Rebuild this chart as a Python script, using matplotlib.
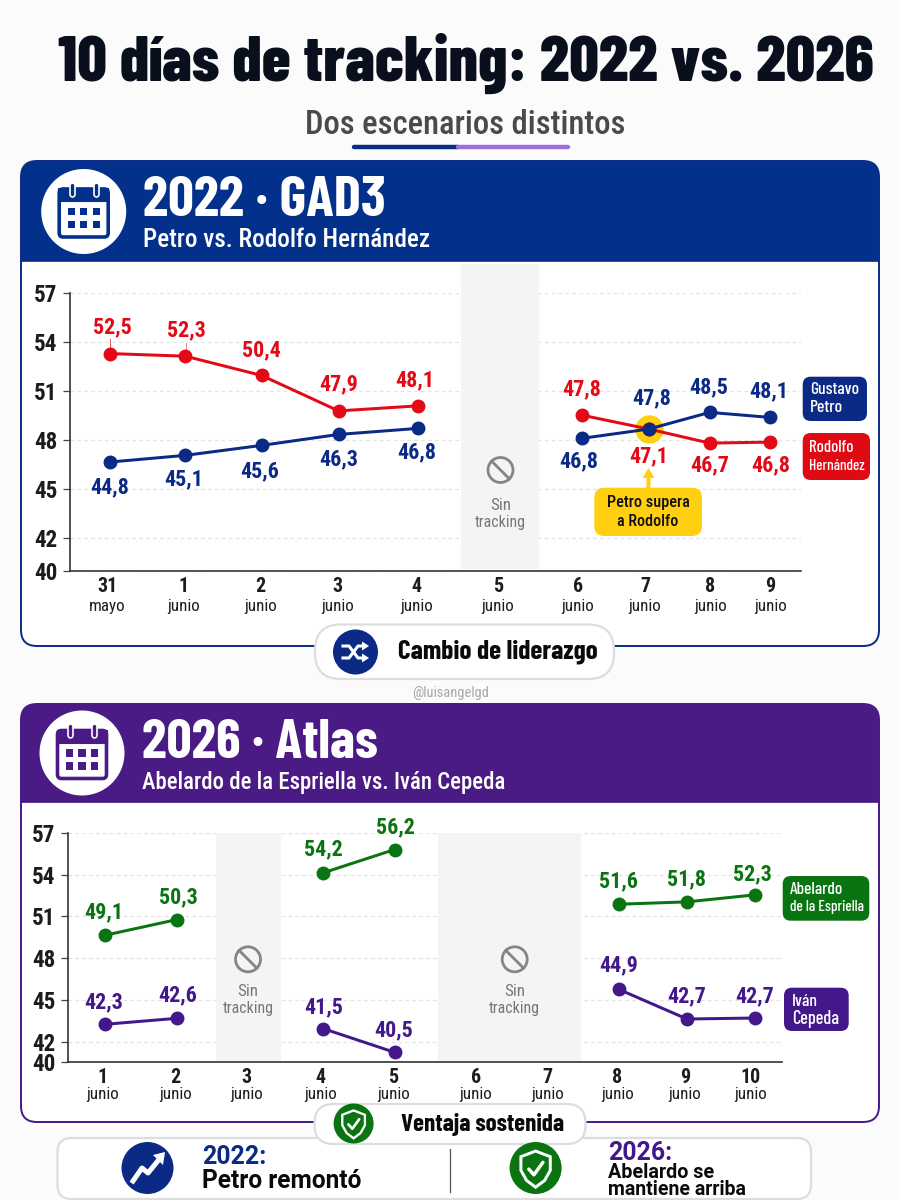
import numpy as np
import matplotlib
matplotlib.use("Agg")
import logging
logging.getLogger('matplotlib.font_manager').setLevel(logging.ERROR)
import matplotlib.pyplot as plt
from matplotlib.patches import FancyBboxPatch, Rectangle, Circle, Polygon
import matplotlib.patheffects as pe

COND = ['Roboto Condensed', 'Barlow Semi Condensed', 'Roboto', 'DejaVu Sans']
TALL = ['Barlow Condensed', 'Roboto Condensed', 'Roboto', 'DejaVu Sans']
plt.rcParams['font.family'] = COND

# ---------- data ----------
nan = float('nan')
days_2022 = ['31', '1', '2', '3', '4', '5', '6', '7', '8', '9']
months_2022 = ['mayo'] + ['junio'] * 9
tick_slots_2022 = [-0.03, 0.95, 1.95, 2.96, 3.98, 5.04, 6.08, 6.95, 7.80, 8.58]
mark_slots_2022 = [0, 0.98, 1.97, 2.97, 4.0, 5.04, 6.13, 7.0, 7.79, 8.58]
petro_pos = [46.67, 47.08, 47.69, 48.36, 48.73, nan, 48.12, 48.69, 49.71, 49.40]
rodolfo_pos = [53.31, 53.15, 51.97, 49.80, 50.11, nan, 49.54, 48.69, 47.83, 47.89]
petro_lab = ['44,8', '45,1', '45,6', '46,3', '46,8', None, '46,8', '47,8', '48,5', '48,1']
rodolfo_lab = ['52,5', '52,3', '50,4', '47,9', '48,1', None, '47,8', '47,1', '46,7', '46,8']

days_2026 = [str(d) for d in range(1, 11)]
months_2026 = ['junio'] * 10
tick_slots_2026 = [0.97, 1.98, 2.97, 3.99, 5.0, 6.15, 7.14, 8.11, 9.05, 9.96]
mark_slots_2026 = [1.0, 2.0, 3.0, 4.03, 5.02, 6.0, 7.0, 8.13, 9.08, 10.02]
abelardo_pos = [49.65, 50.78, nan, 54.14, 55.81, nan, nan, 51.88, 52.05, 52.55]
cepeda_pos = [43.25, 43.68, nan, 42.94, 40.97, nan, nan, 45.77, 43.63, 43.70]
abelardo_lab = ['49,1', '50,3', None, '54,2', '56,2', None, None, '51,6', '51,8', '52,3']
cepeda_lab = ['42,3', '42,6', None, '41,5', '40,5', None, None, '44,9', '42,7', '42,7']

y_ticks = [40, 42, 45, 48, 51, 54, 57]

# ---------- styles / layout ----------
NAVY, PURPLE, RED, GREEN = '#0B2A86', '#43188A', '#E30A17', '#0A7412'
HEAD_NAVY, HEAD_PURPLE = '#02308A', '#4A1A85'
YELLOW = '#FFCF10'
DARK = '#1C1C1C'
off_petro = [(0, 25), (-2, 24), (-2, 26), (0, 25), (-1, 24), None, (-3, 23), (3, -31), (-1, -25), (-2, -26)]
off_rodolfo = [(2, -26), (1, -26), (0, -25), (0, -27), (-3, -26), None, (0, -26), (0, 27), (0, 22), (0, 23)]
off_abelardo = [(-1, -23), (1, -22), None, (0, -23), (1, -22), None, None, (0, -23), (0, -23), (-2, -21)]
off_cepeda = [(-1, -22), (1, -23), None, (0, -21), (-1, -22), None, None, (0, -24), (0, -23), (0, -22)]

PX = 0.72  # px -> pt at dpi 100
fig = plt.figure(figsize=(9, 12), dpi=100, facecolor='#FBFBFB')


def overlay(z):
    a = fig.add_axes([0, 0, 1, 1], zorder=z)
    a.set_xlim(0, 900)
    a.set_ylim(1200, 0)
    a.axis('off')
    a.patch.set_alpha(0)
    return a


bg, fg = overlay(0), overlay(3)


def T(a, x, y, s, px, color=DARK, ha='left', weight='bold', family=None, width=None, **kw):
    t = a.text(x, y, s, fontsize=px * PX, color=color, ha=ha, va='center', fontweight=weight,
               family=family if family else COND, **kw)
    if width:
        r = fig.canvas.get_renderer()
        w = t.get_window_extent(r).width
        t.set_fontsize(t.get_fontsize() * width / w)
    return t


def rbox(a, x0, y0, x1, y1, r, fc, ec='none', lw=0, z=1):
    p = FancyBboxPatch((x0 + r, y0 + r), x1 - x0 - 2 * r, y1 - y0 - 2 * r,
                       boxstyle=f'round,pad={r},rounding_size={r}', fc=fc, ec=ec, lw=lw, zorder=z)
    a.add_patch(p)
    return p


def panel(y0, y1, yh, head, edge):
    rbox(bg, 21, y0, 879, y1, 16, 'white', edge, 1.4, z=1)
    p = rbox(bg, 21, y0, 879, yh + 30, 16, head, z=2)
    clip = Rectangle((0, 0), 900, yh, transform=bg.transData)
    p.set_clip_path(clip)
    bg.plot([21, 879], [yh, yh], color=edge, lw=1.2, zorder=3)


def calendar(cx, cy, color):
    bg.add_patch(Circle((cx, cy), 42.5, fc='white', ec='none', zorder=4))
    rbox(bg, cx - 24.5, cy - 22.5, cx + 24.5, cy + 25.5, 4, 'white', color, 2.6, z=5)
    bg.add_patch(Rectangle((cx - 24.5, cy - 22.5), 49, 12, fc=color, ec=color, lw=1.5, zorder=5))
    for dx in (-12, 12):
        bg.plot([cx + dx, cx + dx], [cy - 27, cy - 18], color=color, lw=2.4, zorder=6,
                solid_capstyle='round', path_effects=[pe.withStroke(linewidth=4.8, foreground='white')])
    for row in (0, 1):
        for col in (-1, 0, 1):
            bg.add_patch(Rectangle((cx + col * 12.5 - 3.7, cy - 3.7 + row * 13), 7.4, 7.4, fc=color, ec='none', zorder=6))


def shield(a, cx, cy, r, z=6):
    a.add_patch(Circle((cx, cy), r, fc=GREEN, ec='none', zorder=z))
    k = r / 23.0
    verts = [(0, -15), (13, -10), (13, 2), (8, 11), (0, 17), (-8, 11), (-13, 2), (-13, -10), (0, -15)]
    a.add_patch(Polygon([(cx + k * vx, cy + k * vy) for vx, vy in verts], closed=True, fc='none',
                        ec='white', lw=1.9 * k, zorder=z + 1))
    a.plot([cx - 6 * k, cx - 1.5 * k, cx + 6.5 * k], [cy + 1 * k, cy + 6 * k, cy - 5 * k], color='white',
           lw=2.2 * k, zorder=z + 1, solid_capstyle='round')


def no_sign(cx, cy):
    fg.add_patch(Circle((cx, cy), 12.5, fc='none', ec='#858585', lw=2.0, zorder=3))
    d = 12.5 * 0.707
    fg.plot([cx - d, cx + d], [cy - d, cy + d], color='#858585', lw=2.0, zorder=3)


def sin_tracking(cx, y_icon, y1, y2):
    no_sign(cx, y_icon)
    T(fg, cx, y1, 'Sin', 17, '#777777', 'center', 'normal')
    T(fg, cx, y2, 'tracking', 17, '#777777', 'center', 'normal', width=51)


def chip(x0, y0, x1, y1, fc, lines, widths, x, ys):
    rbox(fg, x0, y0, x1, y1, 8, fc, z=2)
    for s, w, y in zip(lines, widths, ys):
        T(fg, x, y, s, 17.5, 'white', weight=500, family=TALL, width=w, zorder=3)


# ---------- header region ----------
T(bg, 58, 63, '10 días de tracking: 2022 vs. 2026', 70, '#0A0F1E', weight=800, family=TALL, width=817)
T(bg, 305, 125, 'Dos escenarios distintos', 34, '#4A4A4A', width=321, weight='medium')
bg.plot([354, 458], [147, 147], color=NAVY, lw=3.2, solid_capstyle='round', zorder=2)
bg.plot([458, 568], [147, 147], color='#9B6FDC', lw=3.2, solid_capstyle='round', zorder=2)

panel(161, 646, 261, HEAD_NAVY, NAVY)
panel(704, 1122, 802, HEAD_PURPLE, PURPLE)
calendar(83.7, 211.5, HEAD_NAVY)
calendar(82, 753, HEAD_PURPLE)
T(bg, 143, 201, '2022 · GAD3', 50, 'white', weight=700, family=TALL, width=243, zorder=6)
T(bg, 143, 240, 'Petro vs. Rodolfo Hernández', 23, 'white', width=287, weight='medium', zorder=6)
T(bg, 142, 743, '2026 · Atlas', 50, 'white', weight=700, family=TALL, width=236, zorder=6)
T(bg, 142, 783, 'Abelardo de la Espriella vs. Iván Cepeda', 23, 'white', width=362, weight='medium', zorder=6)


# ---------- charts ----------
def yf(v):
    v = np.asarray(v, float)
    return np.where(v >= 42, v, 42 + (v - 42) * 0.741)


def yi(v):
    v = np.asarray(v, float)
    return np.where(v >= 42, v, 42 + (v - 42) / 0.741)


def chart(rect, xlim, tslots, days, months, mslots, series, bands, band_top, day_y, mon_y):
    x0, x1, ytop, ybot = rect
    ax = fig.add_axes([x0 / 900, 1 - ybot / 1200, (x1 - x0) / 900, (ybot - ytop) / 1200], zorder=1)
    ax.patch.set_alpha(0)
    ax.set_xlim(*xlim)
    for s in ('top', 'right'):
        ax.spines[s].set_visible(False)
    for s in ('left', 'bottom'):
        ax.spines[s].set_color('#333333')
        ax.spines[s].set_linewidth(1.2)
    ax.set_yticks(y_ticks)
    ax.set_yticklabels([str(v) for v in y_ticks], fontsize=23 * PX, fontweight='bold', color=DARK)
    ax.tick_params(axis='y', length=6 * PX * 1.2, width=0.9, color='#444444', pad=4)
    ax.set_xticks(tslots)
    ax.set_xticklabels(days, fontsize=20 * PX, fontweight='bold', color=DARK)
    ax.tick_params(axis='x', length=0, pad=(day_y - ybot - 9) * PX)
    for xv, m in zip(tslots, months):
        ax.annotate(m, (xv, 0), xycoords=('data', 'axes fraction'), xytext=(0, -(mon_y - ybot) * PX),
                    textcoords='offset points', ha='center', va='center', fontsize=17 * PX, color=DARK)
    ax.grid(axis='y', color='#E4E4E4', lw=0.9, ls=(0, (3, 2.5)))
    ax.set_axisbelow(True)
    for b0, b1 in bands:
        ax.axvspan(b0, b1, ymin=0.006, ymax=band_top, fc='#F4F4F4', ec='none', zorder=1, clip_on=False)
    for pos, labs, offs, col in series:
        ax.plot(mslots, pos, color=col, lw=3 * PX, marker='o', ms=12.5 * PX, zorder=4, clip_on=False)
        for xv, yv, lab, off in zip(mslots, pos, labs, offs):
            if lab:
                ax.annotate(lab, (xv, yv), xytext=(off[0] * PX, -off[1] * PX), textcoords='offset points',
                            ha='center', va='center', fontsize=22 * PX, fontweight='bold', color=col, zorder=5)
    return ax


ax1 = chart((70, 800.5, 293.3, 571), (-0.519, 8.97), tick_slots_2022, days_2022, months_2022, mark_slots_2022,
            [(rodolfo_pos, rodolfo_lab, off_rodolfo, RED), (petro_pos, petro_lab, off_petro, NAVY)],
            [(4.565, 5.57)], 1.104, 586, 606.7)
ax1.set_ylim(40, 57)
ax1.plot([mark_slots_2022[7]], [petro_pos[7]], 'o', ms=27 * PX, color=YELLOW, zorder=2)

ax2 = chart((68, 782, 833, 1062.3), (0.486, 10.40), tick_slots_2026, days_2026, months_2026, mark_slots_2026,
            [(abelardo_pos, abelardo_lab, off_abelardo, GREEN), (cepeda_pos, cepeda_lab, off_cepeda, PURPLE)],
            [(2.54, 3.44), (5.63, 7.61)], 1.0, 1076.7, 1094.3)
ax2.set_yscale('function', functions=(yf, yi))
ax2.set_ylim(40, 57)
ax2.set_yticks(y_ticks)
ax2.set_yticklabels([str(v) for v in y_ticks])
ax2.minorticks_off()

# ---------- in-chart furniture ----------
sin_tracking(500.5, 470, 505, 523)
sin_tracking(248, 959.3, 991.7, 1009)
sin_tracking(514.7, 959.3, 991.7, 1009)

fg.plot([110, 110], [339, 347], color=RED, lw=0.7, alpha=0.7)
fg.plot([186, 186], [343, 350], color=RED, lw=0.7, alpha=0.5)

rbox(fg, 594.3, 487.7, 702, 536, 10, YELLOW, z=2)
fg.add_patch(Polygon([(648.5, 468), (642.5, 478), (646.5, 478), (646.5, 489), (650.5, 489), (650.5, 478), (654.5, 478)],
                     closed=True, fc=YELLOW, ec='none', zorder=2))
T(fg, 648, 502, 'Petro supera', 18, '#111111', 'center', 'medium', width=83, zorder=3)
T(fg, 648, 521, 'a Rodolfo', 18, '#111111', 'center', 'medium', width=62, zorder=3)

chip(802.7, 376.7, 867, 421, NAVY, ['Gustavo', 'Petro'], [49, 33], 810, [390, 408])
chip(802.7, 433, 870, 480, '#E00A14', ['Rodolfo', 'Hernández'], [44, 56], 809, [448, 466])
chip(782.7, 876, 869.3, 920.7, GREEN, ['Abelardo', 'de la Espriella'], [53, 74], 789.5, [890, 907])
chip(784, 987.7, 848.7, 1031, PURPLE, ['Iván', 'Cepeda'], [26, 47], 792, [1001, 1019])

# ---------- pills ----------
rbox(fg, 315, 624.5, 614, 679, 26, 'white', '#DDDDDD', 1.6, z=2)
fg.add_patch(Circle((355.5, 652), 22.5, fc=NAVY, ec='none', zorder=3))
sh = [[(343, 646), (349, 646), (358, 658), (364, 658)], [(343, 658), (349, 658), (358, 646), (364, 646)]]
for line in sh:
    xs, ys = zip(*line)
    fg.plot(xs, ys, color='white', lw=2.2, zorder=4)
for ya in (646, 658):
    fg.add_patch(Polygon([(369, ya), (362, ya - 4.5), (362, ya + 4.5)], closed=True, fc='white', ec='none', zorder=4))
T(fg, 397.5, 652, 'Cambio de liderazgo', 28, '#0A0A0A', weight=700, family=TALL, width=200, zorder=4)
T(bg, 450.5, 692.5, '@luisangelgd', 14, '#A8A8A8', 'center', 'normal', width=77, zorder=2)

rbox(fg, 57.5, 1138, 811, 1199, 14, 'white', '#DDDDDD', 1.6, z=1)
rbox(fg, 314.6, 1104, 585.5, 1144, 19, 'white', '#DDDDDD', 1.6, z=2)
shield(fg, 353.6, 1123.5, 20, z=3)
T(fg, 400.7, 1124, 'Ventaja sostenida', 26, '#0A0A0A', weight=700, family=TALL, width=163, zorder=4)

fg.add_patch(Circle((147.5, 1168), 26, fc=NAVY, ec='none', zorder=3))
fg.plot([133, 142, 148, 161], [1181, 1168, 1173, 1157], color='white', lw=3.6, zorder=4)
fg.add_patch(Polygon([(165, 1152), (153, 1155), (163, 1165)], closed=True, fc='white', ec='none', zorder=4))
fg.plot([450, 450], [1149, 1192], color='#555555', lw=0.9, zorder=3)
shield(fg, 535.6, 1168, 26, z=3)
wide = ['Roboto', 'DejaVu Sans']
T(fg, 202.5, 1157, '2022:', 26, NAVY, family=wide, width=64, zorder=4)
T(fg, 202.5, 1181, 'Petro remontó', 26, '#0A0A0A', family=wide, width=160, zorder=4)
T(fg, 608.5, 1153, '2026:', 26, PURPLE, family=wide, width=64, zorder=4)
T(fg, 608.5, 1172.5, 'Abelardo se', 19, '#0A0A0A', family=wide, width=106, zorder=4)
T(fg, 608.5, 1189.5, 'mantiene arriba', 19, '#0A0A0A', family=wide, width=138, zorder=4)

fig.savefig('out.png', dpi=100, facecolor=fig.get_facecolor())
